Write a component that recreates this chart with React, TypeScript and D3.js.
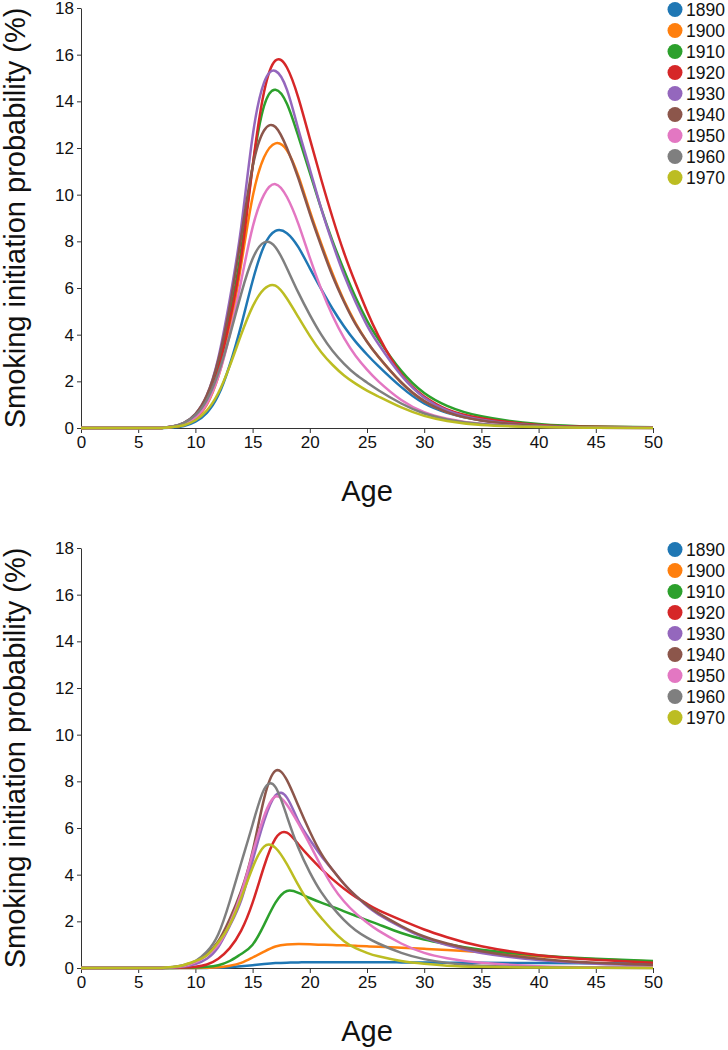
import React, { useEffect, useRef } from 'react'
import * as d3 from 'd3'

const ages = [0, 6, 7, 8, 9, 10, 11, 12, 13, 14, 15, 16, 17, 18, 19, 20, 21, 22, 23, 24, 25, 26, 28, 30, 32, 35, 40, 45, 50]
const cohorts = ['1890', '1900', '1910', '1920', '1930', '1940', '1950', '1960', '1970']
const colors = ['#1f77b4', '#ff7f0e', '#2ca02c', '#d62728', '#9467bd', '#8c564b', '#e377c2', '#7f7f7f', '#bcbd22']
const yTicks = [0, 2, 4, 6, 8, 10, 12, 14, 16, 18]
const xTicks = [0, 5, 10, 15, 20, 25, 30, 35, 40, 45, 50]

// top panel
const top1890 = [0, 0, 0, 0.02, 0.08, 0.27, 0.65, 1.4, 2.7, 4.4, 6.3, 7.8, 8.45, 8.35, 7.75, 6.85, 5.95, 5.1, 4.35, 3.7, 3.15, 2.65, 1.75, 1.05, 0.65, 0.32, 0.1, 0.03, 0.01]
const top1900 = [0, 0, 0, 0.04, 0.14, 0.4, 1.0, 2.2, 4.2, 7.0, 9.9, 11.6, 12.2, 11.9, 10.8, 9.3, 7.9, 6.6, 5.45, 4.5, 3.7, 3.05, 1.95, 1.15, 0.68, 0.33, 0.1, 0.03, 0.01]
const top1910 = [0, 0, 0, 0.05, 0.17, 0.5, 1.2, 2.6, 4.8, 7.6, 11.2, 13.8, 14.5, 13.9, 12.5, 10.95, 9.4, 8.0, 6.75, 5.6, 4.6, 3.8, 2.45, 1.5, 0.95, 0.5, 0.17, 0.06, 0.03]
const top1920 = [0, 0, 0, 0.05, 0.15, 0.45, 1.15, 2.5, 4.6, 7.3, 11.2, 14.4, 15.75, 15.45, 14.15, 12.4, 10.65, 9.0, 7.5, 6.2, 5.0, 3.95, 2.3, 1.35, 0.8, 0.42, 0.13, 0.05, 0.02]
const top1930 = [0, 0, 0, 0.07, 0.22, 0.6, 1.4, 3.0, 5.5, 8.6, 12.5, 14.8, 15.3, 14.5, 12.8, 11.1, 9.4, 7.9, 6.55, 5.4, 4.4, 3.6, 2.25, 1.3, 0.75, 0.35, 0.1, 0.03, 0.01]
const top1940 = [0, 0, 0, 0.07, 0.22, 0.6, 1.4, 2.9, 5.2, 8.2, 11.2, 12.75, 12.9, 12.0, 10.7, 9.2, 7.8, 6.5, 5.4, 4.45, 3.7, 3.05, 1.95, 1.15, 0.68, 0.32, 0.1, 0.03, 0.01]
const top1950 = [0, 0, 0, 0.05, 0.17, 0.45, 1.05, 2.2, 4.0, 6.3, 8.6, 10.0, 10.45, 9.9, 8.75, 7.3, 5.95, 4.8, 3.85, 3.1, 2.5, 2.0, 1.2, 0.68, 0.4, 0.18, 0.05, 0.01, 0]
const top1960 = [0, 0, 0, 0.07, 0.22, 0.55, 1.2, 2.35, 3.95, 5.75, 7.25, 7.95, 7.75, 6.85, 5.8, 4.85, 4.0, 3.3, 2.75, 2.3, 1.95, 1.62, 1.05, 0.62, 0.37, 0.17, 0.05, 0.01, 0]
const top1970 = [0, 0, 0, 0.04, 0.12, 0.33, 0.75, 1.5, 2.65, 4.0, 5.2, 5.95, 6.1, 5.55, 4.75, 3.95, 3.25, 2.7, 2.25, 1.9, 1.6, 1.35, 0.88, 0.52, 0.3, 0.13, 0.04, 0.01, 0]

// bottom panel
const bot1890 = [0, 0, 0, 0, 0, 0, 0.005, 0.01, 0.03, 0.07, 0.12, 0.17, 0.21, 0.23, 0.24, 0.25, 0.25, 0.25, 0.25, 0.25, 0.25, 0.25, 0.24, 0.24, 0.23, 0.22, 0.21, 0.2, 0.19]
const bot1900 = [0, 0, 0, 0, 0, 0, 0.01, 0.03, 0.1, 0.22, 0.45, 0.7, 0.92, 1.01, 1.03, 1.02, 1.0, 0.99, 0.97, 0.95, 0.93, 0.91, 0.87, 0.82, 0.77, 0.68, 0.5, 0.37, 0.28]
const bot1910 = [0, 0, 0, 0, 0.01, 0.02, 0.05, 0.12, 0.3, 0.6, 1.0, 1.85, 2.8, 3.3, 3.22, 3.0, 2.8, 2.62, 2.43, 2.24, 2.05, 1.87, 1.5, 1.22, 1.02, 0.78, 0.54, 0.4, 0.3]
const bot1920 = [0, 0, 0, 0.01, 0.02, 0.05, 0.15, 0.4, 0.85, 1.6, 2.8, 4.35, 5.55, 5.8, 5.3, 4.75, 4.25, 3.8, 3.4, 3.05, 2.75, 2.48, 2.05, 1.65, 1.32, 0.93, 0.55, 0.35, 0.22]
const bot1930 = [0, 0, 0, 0.02, 0.06, 0.17, 0.4, 0.9, 1.8, 2.9, 4.6, 6.3, 7.4, 7.3, 6.3, 5.5, 4.8, 4.2, 3.6, 3.1, 2.65, 2.3, 1.75, 1.3, 0.98, 0.64, 0.34, 0.18, 0.11]
const bot1940 = [0, 0, 0, 0.03, 0.09, 0.25, 0.6, 1.15, 2.1, 3.3, 5.0, 7.25, 8.45, 8.05, 6.95, 5.85, 4.9, 4.2, 3.6, 3.1, 2.7, 2.35, 1.8, 1.35, 1.05, 0.72, 0.4, 0.22, 0.13]
const bot1950 = [0, 0, 0, 0.03, 0.09, 0.24, 0.55, 1.0, 1.9, 3.2, 4.9, 6.5, 7.35, 7.0, 6.2, 5.3, 4.35, 3.5, 2.85, 2.35, 1.95, 1.6, 1.05, 0.65, 0.42, 0.22, 0.08, 0.03, 0.02]
const bot1960 = [0, 0, 0, 0.04, 0.13, 0.3, 0.7, 1.45, 2.85, 4.5, 6.15, 7.65, 7.75, 6.5, 5.15, 4.1, 3.25, 2.6, 2.05, 1.62, 1.3, 1.05, 0.65, 0.38, 0.22, 0.1, 0.03, 0.01, 0]
const bot1970 = [0, 0, 0, 0.04, 0.13, 0.3, 0.55, 1.1, 1.85, 3.0, 4.3, 5.2, 5.15, 4.45, 3.55, 2.75, 2.15, 1.6, 1.15, 0.85, 0.65, 0.5, 0.3, 0.18, 0.1, 0.05, 0.02, 0.01, 0]

const topSeries = [top1890, top1900, top1910, top1920, top1930, top1940, top1950, top1960, top1970]
const botSeries = [bot1890, bot1900, bot1910, bot1920, bot1930, bot1940, bot1950, bot1960, bot1970]

const font = '"Liberation Sans", Arial, sans-serif'

function Panel({ series, offset }: { series: number[][]; offset: number }) {
  const gRef = useRef<SVGGElement>(null)

  const x = d3.scaleLinear().domain([0, 50]).range([81, 653])
  const y = d3.scaleLinear().domain([0, 18]).range([428, 8])

  const line = d3
    .line<number>()
    .x((d, i) => x(ages[i]))
    .y((d) => y(d))
    .curve(d3.curveNatural)

  useEffect(() => {
    const g = d3.select(gRef.current)
    g.selectAll('*').remove()

    const xAxis = g
      .append('g')
      .attr('transform', `translate(0,${y(0)})`)
      .call(d3.axisBottom(x).tickValues(xTicks).tickSize(5).tickSizeOuter(0).tickPadding(3))
    const yAxis = g
      .append('g')
      .attr('transform', `translate(${x(0)},0)`)
      .call(d3.axisLeft(y).tickValues(yTicks).tickSize(4).tickSizeOuter(0).tickPadding(3))

    ;[xAxis, yAxis].forEach((a) => {
      a.selectAll('path,line').attr('stroke', '#333')
      a.selectAll('text').attr('font-size', 17).attr('font-family', font).attr('fill', '#111')
    })

    g.append('g')
      .selectAll('path')
      .data(series)
      .join('path')
      .attr('d', (d) => line(d))
      .attr('fill', 'none')
      .attr('stroke', (d, i) => colors[i])
      .attr('stroke-width', 2.5)

    const legend = g
      .append('g')
      .selectAll('g')
      .data(cohorts)
      .join('g')
      .attr('transform', (d, i) => `translate(675,${9.5 + i * 21})`)
    legend.append('circle').attr('r', 7.5).attr('fill', (d, i) => colors[i])
    legend
      .append('text')
      .attr('x', 11)
      .attr('dy', '0.35em')
      .attr('font-size', 17.5)
      .attr('font-family', font)
      .attr('fill', '#111')
      .text((d) => d)

    g.append('text')
      .attr('transform', `translate(25,${(y(0) + y(18)) / 2}) rotate(-90)`)
      .attr('text-anchor', 'middle')
      .attr('font-size', 29)
      .attr('font-family', font)
      .attr('fill', '#111')
      .text('Smoking initiation probability (%)')

    g.append('text')
      .attr('x', (x(0) + x(50)) / 2)
      .attr('y', 501)
      .attr('text-anchor', 'middle')
      .attr('font-size', 29)
      .attr('font-family', font)
      .attr('fill', '#111')
      .text('Age')
  }, [series])

  return <g ref={gRef} transform={`translate(0,${offset})`} />
}

export default function App() {
  return (
    <svg
      width={728}
      height={1050}
      style={{ position: 'absolute', left: 0, top: 0, background: '#fff' }}
    >
      <Panel series={topSeries} offset={0} />
      <Panel series={botSeries} offset={540} />
    </svg>
  )
}
